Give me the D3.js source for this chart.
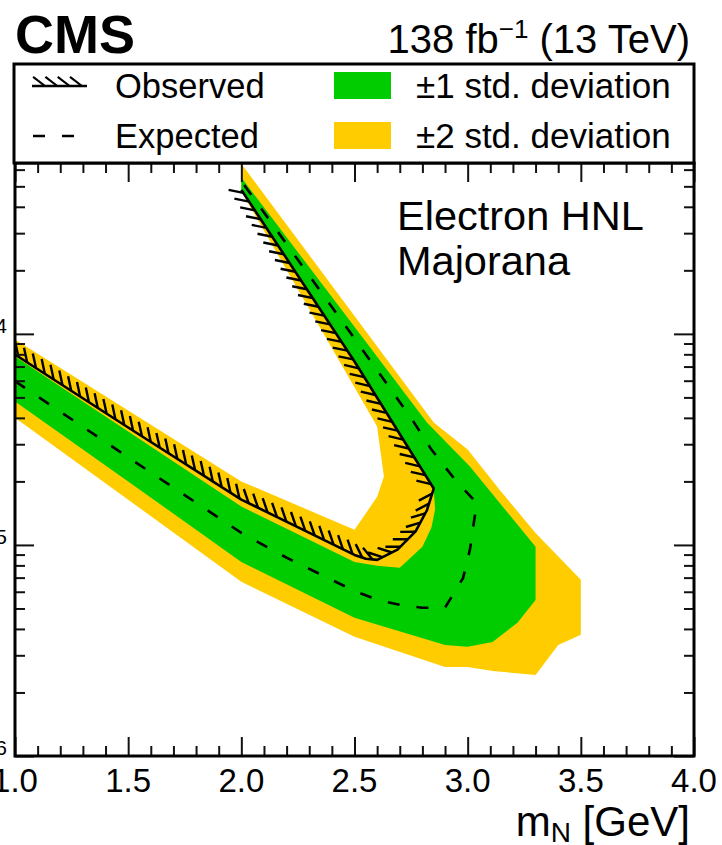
<!DOCTYPE html>
<html><head><meta charset="utf-8">
<script src="https://cdn.jsdelivr.net/npm/d3@7"></script>
<style>
body{margin:0;background:#fff;}
svg{display:block;}
text{font-family:"Liberation Sans", Arial, Helvetica, sans-serif;fill:#000;}
</style>
</head><body>
<svg id="chart" width="722" height="845"></svg>
<script>
// ---------------- data (mass in GeV, |V_eN|^2) ----------------
const observedMass     = [1.0, 1.5, 2.0, 2.5, 2.55, 2.6, 2.69, 2.77, 2.82, 2.85, 2.5, 2.0];
const observedCoupling = [7.98e-5, 3.6e-5, 1.64e-5, 8.97e-6, 8.6e-6, 8.5e-6, 9.5e-6, 1.16e-5, 1.46e-5, 1.85e-5, 7.4e-5, 4.81e-4];

const expectedMass     = [1.0, 1.5, 2.0, 2.2, 2.5, 2.6, 2.7, 2.8, 2.9, 2.98, 3.01, 3.04, 2.95, 2.84, 2.75, 2.5, 2.0];
const expectedCoupling = [5.97e-5, 2.6e-5, 1.14e-5, 8.7e-6, 6.05e-6, 5.5e-6, 5.2e-6, 5.04e-6, 5.04e-6, 6.98e-6, 9.5e-6, 1.58e-5, 2.0e-5, 2.83e-5, 4.0e-5, 9.5e-5, 5.3e-4];

// +-1 sigma band outline (closed polygon)
const band1Mass     = [2.0, 2.5, 2.82, 3.01, 3.3, 3.3, 3.22, 3.11, 3.0, 2.9, 2.5, 2.0, 1.5, 1.0, 1.0, 2.0, 2.5, 2.6, 2.7, 2.8, 2.84, 2.856, 2.85, 2.5, 2.0];
const band1Coupling = [5.5e-4, 1.08e-4, 3.8e-5, 2.35e-5, 9.8e-6, 5.49e-6, 4.28e-6, 3.47e-6, 3.29e-6, 3.36e-6, 4.52e-6, 8.3e-6, 2.0e-5, 4.78e-5, 7.81e-5, 1.52e-5, 8.3e-6, 7.96e-6, 7.79e-6, 9.8e-6, 1.21e-5, 1.47e-5, 1.85e-5, 7.4e-5, 4.84e-4];

// +-2 sigma band outline (closed polygon)
const band2Mass     = [2.0, 2.85, 3.0, 3.14, 3.3, 3.5, 3.5, 3.4, 3.3, 3.11, 3.0, 2.9, 2.5, 2.0, 1.0, 1.0, 2.0, 2.5, 2.6, 2.63, 2.6, 2.0];
const band2Coupling = [6.4e-4, 3.8e-5, 2.83e-5, 1.83e-5, 1.14e-5, 6.84e-6, 3.75e-6, 3.36e-6, 2.42e-6, 2.53e-6, 2.64e-6, 2.64e-6, 3.67e-6, 6.69e-6, 4.01e-5, 9.4e-5, 2.0e-5, 1.18e-5, 1.69e-5, 2.11e-5, 3.64e-5, 4.73e-4];

const xTickValues = [1.0, 1.5, 2.0, 2.5, 3.0, 3.5, 4.0];
const xTickLabels = ["1.0", "1.5", "2.0", "2.5", "3.0", "3.5", "4.0"];
const yDecadeExponents = [-4, -5, -6];
const legendLabels = ["Observed", "Expected", "\u00B11 std. deviation", "\u00B12 std. deviation"];

// ---------------- layout ----------------
const svg = d3.select("#chart");
const P = {left: 15, right: 694, top: 163, bottom: 756};
const x = d3.scaleLinear().domain([1, 4]).range([P.left, P.right]);
const y = d3.scaleLog().domain([1e-6, 6.45e-4]).range([P.bottom, P.top]);

const GREEN = "#00cc00", YELLOW = "#ffcc00";

const zip = (a, b) => a.map((v, i) => [v, b[i]]);

svg.append("defs").append("clipPath").attr("id", "plotClip")
  .append("rect").attr("x", P.left).attr("y", P.top)
  .attr("width", P.right - P.left).attr("height", P.bottom - P.top);

const plot = svg.append("g").attr("clip-path", "url(#plotClip)");

const poly = d3.line().x(d => x(d[0])).y(d => y(d[1])).curve(d3.curveLinearClosed);
const line = d3.line().x(d => x(d[0])).y(d => y(d[1]));

plot.append("path").attr("d", poly(zip(band2Mass, band2Coupling))).attr("fill", YELLOW);
plot.append("path").attr("d", poly(zip(band1Mass, band1Coupling))).attr("fill", GREEN);

plot.append("path").attr("d", line(zip(expectedMass, expectedCoupling)))
  .attr("fill", "none").attr("stroke", "#000").attr("stroke-width", 2.6)
  .attr("stroke-dasharray", "12,17");

// hatches on one side of a polyline (screen coordinates)
function hatchPath(pts, spacing, len, start, rot) {
  let out = "";
  let acc = start;
  const c = Math.cos(rot), s = Math.sin(rot);
  for (let i = 0; i < pts.length - 1; i++) {
    const [x0, y0] = pts[i], [x1, y1] = pts[i + 1];
    const dx = x1 - x0, dy = y1 - y0, L = Math.hypot(dx, dy);
    if (L === 0) continue;
    const ux = dx / L, uy = dy / L;
    const nx = uy, ny = -ux;
    const a = [nx * c - ny * s, nx * s + ny * c];
    const b = [nx * c + ny * s, -nx * s + ny * c];
    const h = a[0] < b[0] ? a : b;
    let t = acc;
    while (t <= L) {
      const px = x0 + ux * t, py = y0 + uy * t;
      out += `M${px.toFixed(1)},${py.toFixed(1)}L${(px + h[0] * len).toFixed(1)},${(py + h[1] * len).toFixed(1)}`;
      t += spacing;
    }
    acc = t - L;
  }
  return out;
}

const obsScreen = zip(observedMass, observedCoupling).map(d => [x(d[0]), y(d[1])]);
plot.append("path").attr("d", hatchPath(obsScreen, 10.5, 15, 4, Math.PI / 4))
  .attr("stroke", "#000").attr("stroke-width", 2.4).attr("fill", "none");
plot.append("path").attr("d", line(zip(observedMass, observedCoupling)))
  .attr("fill", "none").attr("stroke", "#000").attr("stroke-width", 2.6).attr("stroke-linejoin", "round");

// ---------------- axes ticks ----------------
const xMinor = d3.range(10, 41).map(v => v / 10).filter(v => !xTickValues.some(t => Math.abs(t - v) < 1e-9));
const yMajor = [1e-6, 1e-5, 1e-4];
const yMinor = [];
[-6, -5, -4].forEach(e => { for (let k = 2; k <= 9; k++) { const v = k * Math.pow(10, e); if (v <= 6.45e-4) yMinor.push(v); } });

function tickAxis(axis, tx, ty) {
  const g = svg.append("g").attr("transform", `translate(${tx},${ty})`).call(axis);
  g.select(".domain").remove();
  g.selectAll(".tick line").attr("stroke", "#111").attr("stroke-width", 2);
  g.selectAll(".tick text").remove();
}
tickAxis(d3.axisBottom(x).tickValues(xTickValues).tickSize(-19), 0, P.bottom);
tickAxis(d3.axisBottom(x).tickValues(xMinor).tickSize(-10), 0, P.bottom);
tickAxis(d3.axisTop(x).tickValues(xTickValues).tickSize(-19), 0, P.top);
tickAxis(d3.axisTop(x).tickValues(xMinor).tickSize(-10), 0, P.top);
tickAxis(d3.axisLeft(y).tickValues(yMajor).tickSize(-19), P.left, 0);
tickAxis(d3.axisLeft(y).tickValues(yMinor).tickSize(-10), P.left, 0);
tickAxis(d3.axisRight(y).tickValues(yMajor).tickSize(-20), P.right, 0);
tickAxis(d3.axisRight(y).tickValues(yMinor).tickSize(-10), P.right, 0);

// frame
svg.append("rect").attr("x", P.left).attr("y", P.top)
  .attr("width", P.right - P.left).attr("height", P.bottom - P.top)
  .attr("fill", "none").attr("stroke", "#000").attr("stroke-width", 3);

// x tick labels
svg.append("g").selectAll("text").data(xTickValues).join("text")
  .attr("x", d => x(d)).attr("y", 792).attr("text-anchor", "middle")
  .attr("font-size", 33).text((d, i) => xTickLabels[i]);

// y tick labels (mostly outside the canvas, as in the reference)
const yl = svg.append("g").selectAll("text").data(yDecadeExponents).join("text")
  .attr("x", 7).attr("y", d => y(Math.pow(10, d)) + 12).attr("text-anchor", "end");
yl.append("tspan").attr("font-size", 33).text("10");
yl.append("tspan").attr("font-size", 21).attr("dy", -13).text(d => "\u2212" + Math.abs(d));

// x axis title
const xt = svg.append("text").attr("x", 690).attr("y", 836).attr("text-anchor", "end").attr("font-size", 42);
xt.append("tspan").text("m");
xt.append("tspan").attr("font-size", 28).attr("dy", 6).text("N");
xt.append("tspan").attr("dy", -6).text(" [GeV]");

// header
svg.append("text").attr("x", 15).attr("y", 53).attr("font-size", 54).attr("font-weight", "bold").text("CMS");
const lumi = svg.append("text").attr("x", 690).attr("y", 53).attr("text-anchor", "end").attr("font-size", 40);
lumi.append("tspan").text("138 fb");
lumi.append("tspan").attr("font-size", 26).attr("dy", -15).text("\u22121");
lumi.append("tspan").attr("dy", 15).text(" (13 TeV)");

// in-plot label
svg.append("text").attr("x", 397).attr("y", 230).attr("font-size", 41.5).text("Electron HNL");
svg.append("text").attr("x", 397).attr("y", 275).attr("font-size", 41.5).text("Majorana");

// ---------------- legend ----------------
const lg = svg.append("g");
lg.append("rect").attr("x", 14).attr("y", 64).attr("width", 680).attr("height", 99)
  .attr("fill", "#fff").attr("stroke", "#000").attr("stroke-width", 3);
// observed symbol
lg.append("path").attr("d", "M32,86L87,86").attr("stroke", "#000").attr("stroke-width", 2.6);
lg.append("path").attr("d", hatchPath([[32, 86], [87, 86]], 12.3, 15, 13, 0.92))
  .attr("stroke", "#000").attr("stroke-width", 2.2);
// expected symbol
lg.append("path").attr("d", "M33,136L74,136").attr("stroke", "#000").attr("stroke-width", 2.6)
  .attr("stroke-dasharray", "12,17");
lg.append("rect").attr("x", 334).attr("y", 72).attr("width", 57).attr("height", 27).attr("fill", GREEN);
lg.append("rect").attr("x", 334).attr("y", 122).attr("width", 57).attr("height", 27).attr("fill", YELLOW);
lg.append("text").attr("x", 115).attr("y", 98).attr("font-size", 34.5).text(legendLabels[0]);
lg.append("text").attr("x", 115).attr("y", 148).attr("font-size", 34.5).text(legendLabels[1]);
lg.append("text").attr("x", 416).attr("y", 98).attr("font-size", 35).text(legendLabels[2]);
lg.append("text").attr("x", 416).attr("y", 148).attr("font-size", 35).text(legendLabels[3]);
</script>
</body></html>
